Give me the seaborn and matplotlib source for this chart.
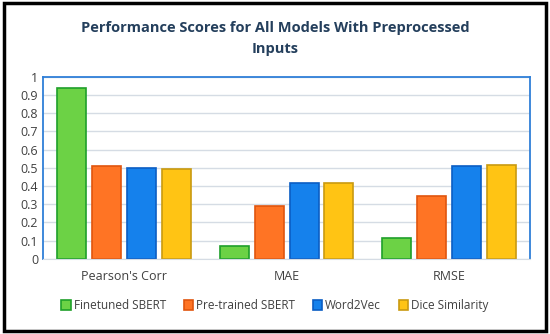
import numpy as np
import pandas as pd
import matplotlib.pyplot as plt
import seaborn as sns
from matplotlib.patches import Rectangle

sns.set_style("white")
plt.rcParams['font.family'] = ['Open Sans', 'DejaVu Sans']

metrics = ["Pearson's Corr", "MAE", "RMSE"]
models = ["Finetuned SBERT", "Pre-trained SBERT", "Word2Vec", "Dice Similarity"]
finetuned = [0.94, 0.07, 0.115]
pretrained = [0.51, 0.29, 0.345]
word2vec = [0.50, 0.415, 0.51]
dice = [0.495, 0.417, 0.515]

fills = ["#6CD245", "#FF7424", "#1581EC", "#FFC414"]
edges = ["#1FA02A", "#E0550E", "#0B5EC4", "#C99A10"]

df = pd.DataFrame({
    "metric": metrics * 4,
    "model": np.repeat(models, 3),
    "score": finetuned + pretrained + word2vec + dice,
})

fig = plt.figure(figsize=(5.5, 3.34), dpi=100)
ax = fig.add_axes([0.078, 0.225, 0.886, 0.545])

sns.barplot(data=df, x="metric", y="score", hue="model", order=metrics,
            hue_order=models, palette=fills, saturation=1, width=0.86, gap=0.17,
            ax=ax, legend=False)

for i, cont in enumerate(ax.containers):
    for bar in cont:
        bar.set_edgecolor(edges[i])
        bar.set_linewidth(1.2)

ax.set_ylim(0, 1)
ax.set_yticks(np.arange(0, 1.01, 0.1))
ax.set_yticklabels(["0", "0.1", "0.2", "0.3", "0.4", "0.5", "0.6", "0.7", "0.8", "0.9", "1"])
ax.yaxis.grid(True, color="#D5DCE4", linewidth=1)
ax.set_axisbelow(True)
ax.set_xlabel("")
ax.set_ylabel("")
ax.tick_params(axis="both", length=0, labelsize=9, colors="#404040")
ax.tick_params(axis="x", pad=8)
for side in ["left", "top", "right"]:
    ax.spines[side].set_color("#2F7FD8")
    ax.spines[side].set_linewidth(1.3)
ax.spines["bottom"].set_color("#D5DCE4")

handles = [Rectangle((0, 0), 1, 1, facecolor=f, edgecolor=e, linewidth=1.2)
           for f, e in zip(fills, edges)]
fig.legend(handles, models, loc="center", bbox_to_anchor=(0.5, 0.085), ncol=4,
           frameon=False, fontsize=8.5, handlelength=0.8, handleheight=0.8,
           handletextpad=0.25, columnspacing=1.5, labelcolor="#404040")

fig.text(0.5, 0.885, "Performance Scores for All Models With Preprocessed\nInputs",
         ha="center", va="center", fontsize=10.5, fontweight="bold",
         color="#243F5C", linespacing=1.7)

fig.patches.append(Rectangle((0.007, 0.01), 0.986, 0.98, transform=fig.transFigure,
                             fill=False, edgecolor="black", linewidth=2.5))

fig.savefig("out.png", dpi=100)
